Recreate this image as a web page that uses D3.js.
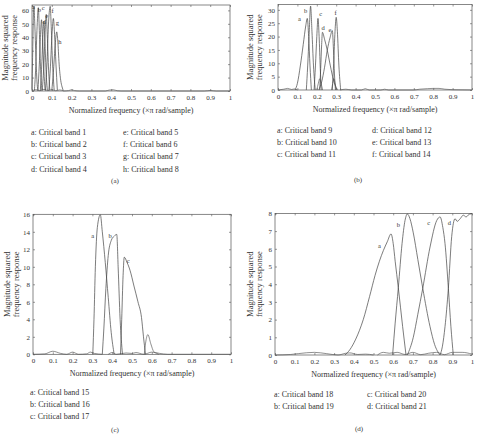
<!DOCTYPE html>
<html>
<head>
<meta charset="utf-8">
<script src="https://cdn.jsdelivr.net/npm/d3@7"></script>
<style>
  body { margin: 0; background: #fff; }
  text { font-family: "Liberation Serif", "DejaVu Serif", serif; fill: #333; }
</style>
</head>
<body>
<script>
// ---- dati ----
const xTicks = [0, 0.1, 0.2, 0.3, 0.4, 0.5, 0.6, 0.7, 0.8, 0.9, 1];
const xTickLabels = ["0", "0.1", "0.2", "0.3", "0.4", "0.5", "0.6", "0.7", "0.8", "0.9", "1"];

const yTicksA = [0, 10, 20, 30, 40, 50, 60];
const yTicksB = [0, 5, 10, 15, 20, 25, 30];
const yTicksC = [0, 2, 4, 6, 8, 10, 12, 14, 16];
const yTicksD = [0, 1, 2, 3, 4, 5, 6, 7, 8];
const yMax = [64, 32, 16, 8];

// (a) bande 1-8
const curvesA = [
  [[0, 1], [0.003, 25], [0.007, 55], [0.01, 63], [0.014, 50], [0.02, 25], [0.026, 5], [0.03, 0.3]],
  [[0.012, 0.3], [0.018, 15], [0.025, 45], [0.032, 62], [0.037, 45], [0.043, 18], [0.05, 0.5]],
  [[0.03, 0.3], [0.037, 20], [0.043, 42], [0.048, 53], [0.053, 40], [0.06, 15], [0.066, 0.5]],
  [[0.042, 0.3], [0.05, 22], [0.056, 44], [0.06, 52], [0.065, 38], [0.072, 12], [0.078, 0.5]],
  [[0.052, 0.3], [0.06, 20], [0.067, 46], [0.072, 57], [0.077, 42], [0.084, 15], [0.09, 0.5]],
  [[0.068, 0.3], [0.076, 22], [0.084, 52], [0.092, 63], [0.097, 48], [0.104, 20], [0.112, 0.5]],
  [[0.085, 0.3], [0.093, 18], [0.101, 42], [0.108, 54], [0.114, 42], [0.121, 20], [0.128, 0.5]],
  [[0.1, 0.3], [0.108, 14], [0.116, 32], [0.125, 44], [0.13, 38], [0.137, 20], [0.145, 8], [0.152, 3], [0.158, 0.3]]
];
const ripplesA = [
  [[0, 0], [0.02, 1], [0.04, 0.2], [0.06, 1.2], [0.08, 0.3], [0.1, 1], [0.12, 0.2], [0.14, 0.8], [0.16, 0]],
  [[0.16, 0], [0.185, 0.3], [0.2, 0.9], [0.215, 0.3], [0.24, 0], [0.37, 0], [0.39, 0.7], [0.41, 0.9], [0.43, 0.2], [0.45, 0], [0.87, 0], [0.9, 0.4], [0.93, 0], [1, 0]]
];
const labelsA = [["a", 0.007, 63], ["b", 0.037, 61], ["c", 0.057, 62], ["d", 0.061, 52],
  ["e", 0.074, 56], ["f", 0.104, 60], ["g", 0.128, 51], ["h", 0.141, 37]];
const legendA = ["a: Critical band 1", "b: Critical band 2", "c: Critical band 3", "d: Critical band 4",
  "e: Critical band 5", "f: Critical band 6", "g: Critical band 7", "h: Critical band 8"];

// (b) bande 9-14
const curvesB = [
  [[0.088, 0], [0.1, 2.5], [0.115, 9], [0.13, 17], [0.143, 24], [0.151, 26.8], [0.158, 20], [0.165, 9], [0.172, 0]],
  [[0.146, 0], [0.153, 9], [0.16, 20], [0.168, 31.4], [0.175, 22], [0.183, 9], [0.192, 0]],
  [[0.186, 0], [0.193, 9], [0.2, 20], [0.206, 26.8], [0.212, 20], [0.218, 8], [0.223, 0]],
  [[0.215, 0], [0.22, 8], [0.225, 17], [0.229, 21.6], [0.24, 19], [0.254, 14.9], [0.27, 9], [0.285, 4], [0.306, 0]],
  [[0.21, 0], [0.225, 3], [0.24, 8.5], [0.254, 14.9], [0.268, 19.5], [0.28, 22.2], [0.286, 15], [0.291, 6], [0.296, 0]],
  [[0.28, 0], [0.287, 10], [0.294, 22], [0.3, 27.2], [0.306, 22], [0.314, 9], [0.323, 0]]
];
const ripplesB = [
  [[0.2, 0], [0.208, 2.5], [0.215, 4.2], [0.222, 2.5], [0.23, 0]],
  [[0.276, 0], [0.282, 2.5], [0.288, 4.3], [0.294, 2.5], [0.3, 0]],
  [[0, 0], [0.03, 0.3], [0.05, 0.6], [0.07, 0.2], [0.085, 0.4], [0.1, 0]],
  [[0.32, 0], [0.35, 0.3], [0.38, 0], [0.43, 0], [0.45, 0.5], [0.47, 0], [0.53, 0], [0.55, 0.3], [0.57, 0],
    [0.7, 0], [0.73, 0.3], [0.77, 0.5], [0.8, 0.6], [0.83, 0.6], [0.86, 0.3], [0.9, 0.1], [1, 0]]
];
const labelsB = [["a", 0.11, 26.6], ["b", 0.143, 29.9], ["c", 0.22, 28.7], ["d", 0.232, 23.5],
  ["e", 0.268, 22.5], ["f", 0.297, 28.9]];
const legendB = ["a: Critical band 9", "b: Critical band 10", "c: Critical band 11",
  "d: Critical band 12", "e: Critical band 13", "f: Critical band 14"];

// (c) bande 15-17
const curvesC = [
  [[0.302, 0], [0.308, 4], [0.315, 10], [0.325, 14.5], [0.34, 15.95], [0.35, 14], [0.365, 10.5], [0.38, 6.5], [0.395, 2.5], [0.41, 0]],
  [[0.35, 0], [0.358, 3], [0.368, 7.5], [0.38, 11.3], [0.395, 13], [0.41, 13.5], [0.423, 13.7], [0.43, 10], [0.44, 4], [0.452, 0]],
  [[0.442, 0], [0.448, 4], [0.455, 9], [0.461, 11.1], [0.475, 10.5], [0.49, 9.6], [0.51, 7.8], [0.53, 6], [0.548, 4.2], [0.558, 2], [0.568, 0]]
];
const ripplesC = [
  [[0.562, 0], [0.57, 1.5], [0.58, 2.25], [0.595, 1.2], [0.61, 0.3], [0.625, 0.1], [0.635, 0]],
  [[0, 0], [0.06, 0.05], [0.1, 0.35], [0.14, 0.1], [0.17, 0], [0.2, 0.25], [0.23, 0], [0.27, 0.05], [0.29, 0.25], [0.31, 0.1], [0.35, 0]],
  [[0.38, 0], [0.4, 0.2], [0.42, 0], [0.47, 0.15], [0.5, 0.1], [0.52, 0.2], [0.56, 0], [0.6, 0.25], [0.64, 0.1], [0.68, 0], [1, 0]]
];
const labelsC = [["a", 0.301, 13.6], ["b", 0.389, 13.6], ["c", 0.481, 10.7]];
const legendC = ["a: Critical band 15", "b: Critical band 16", "c: Critical band 17"];

// (d) bande 18-21
const curvesD = [
  [[0.355, 0], [0.38, 0.3], [0.41, 0.9], [0.448, 2], [0.48, 3.3], [0.508, 4.5], [0.53, 5.3], [0.55, 5.9], [0.57, 6.4],
    [0.589, 6.84], [0.6, 6.3], [0.61, 5.3], [0.626, 3.8], [0.648, 1.6], [0.665, 0]],
  [[0.597, 0], [0.61, 1.8], [0.626, 3.8], [0.645, 6.3], [0.66, 7.6], [0.672, 7.97], [0.685, 7.7], [0.702, 6.9],
    [0.725, 5.4], [0.75, 3.77], [0.787, 1.6], [0.81, 0.6], [0.838, 0]],
  [[0.672, 0], [0.702, 1.0], [0.725, 2.3], [0.75, 3.77], [0.787, 6.1], [0.821, 7.6], [0.838, 7.8], [0.852, 7.2],
    [0.863, 6.3], [0.88, 3.77], [0.893, 1.6], [0.905, 0]],
  [[0.838, 0], [0.85, 0.5], [0.863, 1.6], [0.88, 3.77], [0.897, 6.7], [0.914, 7.7], [0.925, 7.55], [0.94, 7.7],
    [0.956, 7.9], [0.97, 7.8], [0.985, 7.95], [1, 8.0]]
];
const ripplesD = [
  [[0, 0], [0.08, 0.03], [0.12, 0.08], [0.2, 0.15], [0.26, 0.08], [0.32, 0], [0.36, 0.1], [0.38, 0.12], [0.42, 0.03], [0.46, 0.05], [0.5, 0]],
  [[0.52, 0], [0.55, 0.15], [0.58, 0.1], [0.62, 0.15], [0.66, 0.03], [0.7, 0.15], [0.74, 0.02], [0.78, 0.1], [0.82, 0.15], [0.86, 0.02], [0.9, 0.15], [0.95, 0.15], [1, 0.05]]
];
const labelsD = [["a", 0.53, 6.2], ["b", 0.626, 7.4], ["c", 0.78, 7.5], ["d", 0.885, 7.5]];
const legendD = ["a: Critical band 18", "b: Critical band 19", "c: Critical band 20", "d: Critical band 21"];

// ---- pannelli ----
const panels = [
  { box: [32, 230, 5, 91], yMax: yMax[0], yTicks: yTicksA, curves: curvesA, ripples: ripplesA, labels: labelsA,
    legend: legendA, perCol: 4, legX: [31, 123], legY: 132, caption: "(a)", capX: 115, capY: 181, yTitleX: 5 },
  { box: [278, 472, 4.5, 90], yMax: yMax[1], yTicks: yTicksB, curves: curvesB, ripples: ripplesB, labels: labelsB,
    legend: legendB, perCol: 3, legX: [277, 372], legY: 130, caption: "(b)", capX: 358, capY: 180, yTitleX: 250 },
  { box: [33, 231, 214.3, 354.3], yMax: yMax[2], yTicks: yTicksC, curves: curvesC, ripples: ripplesC, labels: labelsC,
    legend: legendC, perCol: 3, legX: [30], legY: 392, caption: "(c)", capX: 115, capY: 430, yTitleX: 7 },
  { box: [275, 472, 213.4, 355], yMax: yMax[3], yTicks: yTicksD, curves: curvesD, ripples: ripplesD, labels: labelsD,
    legend: legendD, perCol: 2, legX: [274, 367], legY: 394, caption: "(d)", capX: 359, capY: 429, yTitleX: 250 }
];

const svg = d3.select("body").append("svg")
  .attr("width", 480)
  .attr("height", 437)
  .style("display", "block");

panels.forEach((p) => {
  const [x0, x1, y0, y1] = p.box;
  const x = d3.scaleLinear().domain([0, 1]).range([x0, x1]);
  const y = d3.scaleLinear().domain([0, p.yMax]).range([y1, y0]);
  const g = svg.append("g");

  const line = d3.line()
    .x((d) => x(d[0]))
    .y((d) => y(d[1]))
    .curve(d3.curveMonotoneX);

  // lobi secondari
  g.selectAll(".rip")
    .data(p.ripples)
    .join("path")
    .attr("d", line)
    .attr("fill", "none")
    .attr("stroke", "#444")
    .attr("stroke-width", 0.6);

  // risposte delle bande
  g.selectAll(".band")
    .data(p.curves)
    .join("path")
    .attr("d", line)
    .attr("fill", "none")
    .attr("stroke", "#444")
    .attr("stroke-width", 0.7);

  // assi con tacche interne
  const fmt = (d) => xTickLabels[xTicks.indexOf(d)];
  const bottom = g.append("g").attr("transform", `translate(0,${y1})`)
    .call(d3.axisBottom(x).tickValues(xTicks).tickFormat(fmt).tickSize(-2).tickSizeOuter(0).tickPadding(4));
  const top = g.append("g").attr("transform", `translate(0,${y0})`)
    .call(d3.axisTop(x).tickValues(xTicks).tickFormat("").tickSize(-2).tickSizeOuter(0));
  const left = g.append("g").attr("transform", `translate(${x0},0)`)
    .call(d3.axisLeft(y).tickValues(p.yTicks).tickSize(-2).tickSizeOuter(0).tickPadding(3));
  const right = g.append("g").attr("transform", `translate(${x1},0)`)
    .call(d3.axisRight(y).tickValues(p.yTicks).tickFormat("").tickSize(-2).tickSizeOuter(0));

  [bottom, top, left, right].forEach((a) => {
    a.select(".domain").remove();
    a.selectAll(".tick line").attr("stroke", "#555").attr("stroke-width", 0.6);
    a.selectAll("text")
      .style("font-family", '"Liberation Serif", serif')
      .style("font-size", "7px")
      .attr("fill", "#333");
  });

  g.append("rect")
    .attr("x", x0).attr("y", y0)
    .attr("width", x1 - x0).attr("height", y1 - y0)
    .attr("fill", "none")
    .attr("stroke", "#555")
    .attr("stroke-width", 0.7);

  // etichette delle curve
  g.selectAll(".lab")
    .data(p.labels)
    .join("text")
    .attr("x", (d) => x(d[1]))
    .attr("y", (d) => y(d[2]))
    .attr("text-anchor", "middle")
    .attr("dominant-baseline", "central")
    .style("font-size", "6.5px")
    .text((d) => d[0]);

  // titoli degli assi
  g.append("text")
    .attr("x", (x0 + x1) / 2)
    .attr("y", y1 + 22)
    .attr("text-anchor", "middle")
    .style("font-size", "8px")
    .text("Normalized frequency (×π rad/sample)");

  const ym = (y0 + y1) / 2;
  ["Magnitude squared", "frequency response"].forEach((t, i) => {
    g.append("text")
      .attr("transform", `translate(${p.yTitleX + i * 9},${ym}) rotate(-90)`)
      .attr("text-anchor", "middle")
      .attr("dominant-baseline", "central")
      .style("font-size", "8.5px")
      .text(t);
  });

  // legenda
  g.selectAll(".leg")
    .data(p.legend)
    .join("text")
    .attr("x", (d, i) => p.legX[Math.floor(i / p.perCol)])
    .attr("y", (d, i) => p.legY + (i % p.perCol) * 12.4)
    .attr("dominant-baseline", "central")
    .style("font-size", "8px")
    .text((d) => d);

  g.append("text")
    .attr("x", p.capX)
    .attr("y", p.capY)
    .attr("text-anchor", "middle")
    .attr("dominant-baseline", "central")
    .style("font-size", "7px")
    .text(p.caption);
});
</script>
</body>
</html>
